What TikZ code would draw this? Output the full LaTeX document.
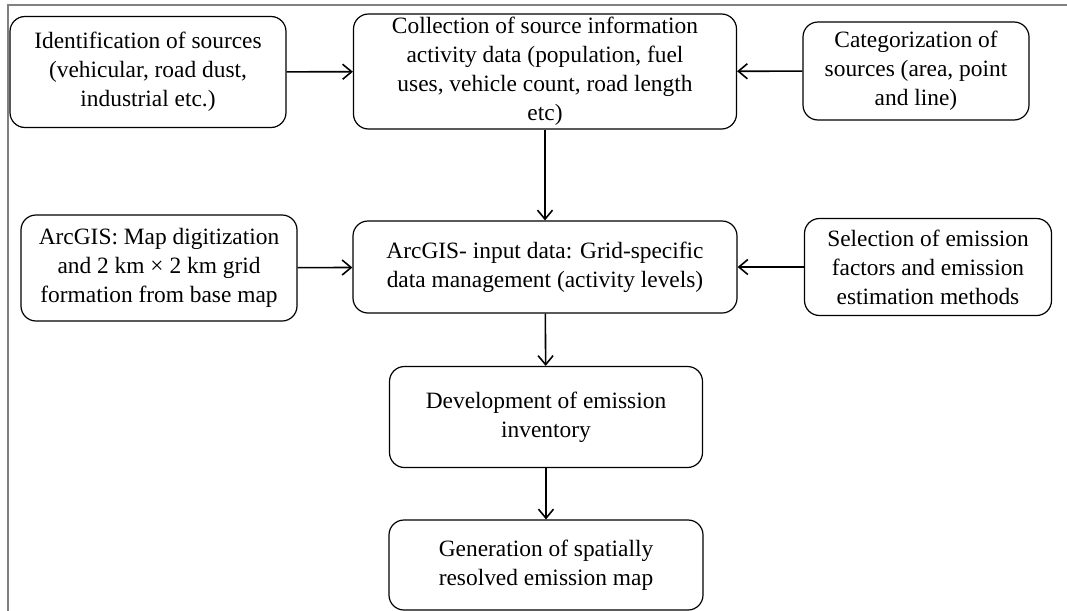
\documentclass[tikz,border=0pt]{standalone}
\usepackage{fontspec}
\setmainfont{Liberation Serif}
\usetikzlibrary{arrows.meta}
\begin{document}
\begin{tikzpicture}[x=0.5pt,y=-0.5pt]
    \tikzstyle{box}=[draw, rounded corners=7.5pt, line width=0.6pt, align=center, inner sep=0pt, font=\fontsize{11.7}{14.5}\selectfont]
    \tikzstyle{arr}=[-{Straight Barb[length=4.5pt,width=7.5pt]}, line width=0.8pt]
    \useasboundingbox (0,0) rectangle (1067,611);
    \draw[gray, line width=0.85pt] (8,611) -- (8,4.8) -- (1067,4.8);
    \node[box, minimum width=138pt, minimum height=55.5pt] (ident) at (148,72) {Identification of sources\\(vehicular, road dust,\\industrial etc.)};
    \node[box, minimum width=191.5pt, minimum height=57.5pt] (collect) at (545,71.5) {Collection of source information\\activity data (population, fuel\\uses, vehicle count, road length\\etc)};
    \node[box, minimum width=113pt, minimum height=49pt] (categ) at (916,71) {Categorization of\\sources (area, point\\and line)};
    \node[box, minimum width=138pt, minimum height=53pt] (digit) at (159,268) {ArcGIS: Map digitization\\and 2 km × 2 km grid\\formation from base map};
    \node[box, minimum width=192pt, minimum height=46pt] (input) at (545,267) {ArcGIS- input data: Grid-specific\\data management (activity levels)};
    \node[box, minimum width=123.5pt, minimum height=48.5pt] (factor) at (928,267) {Selection of emission\\factors and emission\\estimation methods};
    \node[box, minimum width=156.5pt, minimum height=50.5pt] (invent) at (546,417) {Development of emission\\inventory};
    \node[box, minimum width=157pt, minimum height=45pt] (emap) at (546,565) {Generation of spatially\\resolved emission map};
    \draw[arr] (ident) -- (collect);
    \draw[arr] (categ) -- (collect);
    \draw[arr] (collect) -- (input);
    \draw[arr] (digit) -- (input);
    \draw[arr] (factor) -- (input);
    \draw[arr] (input) -- (invent);
    \draw[arr] (invent) -- (emap);
  \end{tikzpicture}
\end{document}
